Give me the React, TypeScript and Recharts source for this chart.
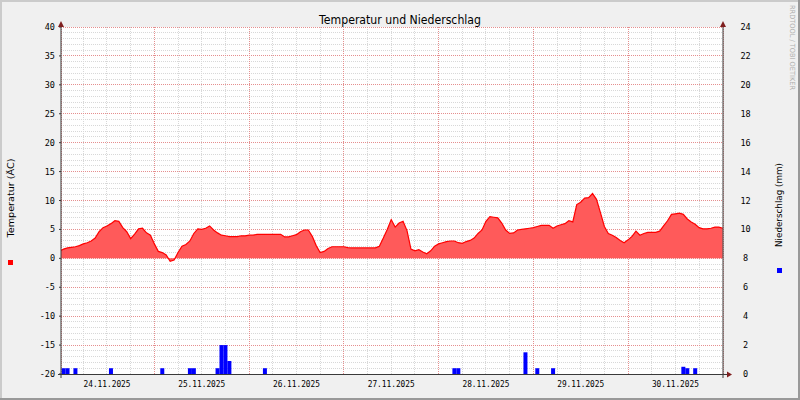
import { ComposedChart, Area, Bar, XAxis, YAxis, CartesianGrid } from 'recharts';

// hours counted from 24.11.2025 00:00
const dayLabels = ['24.11.2025', '25.11.2025', '26.11.2025', '27.11.2025', '28.11.2025', '29.11.2025', '30.11.2025'];
const labelHours = [12, 36, 60, 84, 108, 132, 156];
const majorHours = [24, 48, 72, 96, 120, 144];
const minorHours = Array.from({ length: 27 }, (_, i) => (i + 1) * 6).filter((h) => h % 24 !== 0);

const TEMP_DOMAIN: [number, number] = [-20, 40];
const tempTicks = [-20, -15, -10, -5, 0, 5, 10, 15, 20, 25, 30, 35, 40];
const tempMinorTicks = Array.from({ length: 61 }, (_, i) => i - 20).filter((v) => v % 5 !== 0);
const rainTicks = [0, 2, 4, 6, 8, 10, 12, 14, 16, 18, 20, 22, 24];

// hourly temperature (°C), hour 0 .. 168
const temperature = [
  1.2, 1.6, 1.8, 1.9, 2.0, 2.2, 2.5, 2.7, 3.0, 3.5, 4.6, 5.3, 5.6, 6.0, 6.5, 6.4, 5.3, 4.6, 3.4, 4.2, 5.1, 5.2, 4.4, 4.0,
  2.5, 1.2, 1.0, 0.6, -0.5, -0.3, 1.0, 2.1, 2.4, 3.0, 4.3, 5.1, 5.0, 5.2, 5.6, 4.9, 4.4, 4.0, 3.9, 3.75, 3.75, 3.75, 3.9, 3.9,
  4.0, 4.0, 4.15, 4.15, 4.15, 4.15, 4.15, 4.15, 4.15, 3.7, 3.7, 3.9, 4.1, 4.6, 4.9, 4.9, 3.8, 2.2, 1.0, 1.2, 1.7, 2.0, 2.0, 2.0,
  2.0, 1.85, 1.8, 1.8, 1.8, 1.8, 1.8, 1.8, 1.8, 2.1, 3.5, 5.0, 6.7, 5.4, 6.1, 6.4, 4.8, 1.6, 1.3, 1.5, 1.1, 0.8, 1.3, 2.1,
  2.5, 2.7, 2.9, 3.0, 3.0, 2.7, 2.6, 2.9, 3.1, 3.5, 4.3, 4.9, 6.4, 7.2, 7.1, 7.0, 6.1, 4.9, 4.3, 4.4, 4.9, 5.0, 5.1, 5.2,
  5.3, 5.5, 5.7, 5.7, 5.7, 5.2, 5.6, 5.8, 6.0, 6.5, 6.3, 9.3, 9.7, 10.4, 10.5, 11.2, 10.2, 7.9, 5.5, 4.3, 4.0, 3.6, 3.1, 2.7,
  3.2, 3.8, 4.7, 4.0, 4.3, 4.5, 4.5, 4.5, 4.7, 5.6, 6.5, 7.6, 7.7, 7.8, 7.6, 6.8, 6.3, 5.9, 5.3, 5.1, 5.1, 5.2, 5.4, 5.4,
  5.2,
];

// hourly precipitation (mm), only the hours with rain
const rainHours = [1, 2, 4, 13, 26, 33, 34, 40, 41, 42, 43, 52, 100, 101, 118, 121, 125, 158, 159, 161];
const rainMm = [0.4, 0.4, 0.4, 0.4, 0.4, 0.4, 0.4, 0.4, 2.0, 2.0, 0.9, 0.4, 0.4, 0.4, 1.5, 0.4, 0.4, 0.5, 0.4, 0.4];

const rows = temperature.map((t, h) => {
  const idx = rainHours.indexOf(h);
  return { h, temp: t, rain: idx >= 0 ? rainMm[idx] : undefined };
});

const X_DOMAIN: [number, number] = [0.35, 168.05];
const MONO = '"DejaVu Sans Mono", monospace';
const SANS = '"DejaVu Sans", sans-serif';

const LeftTick = ({ x, y, payload }: any) => (
  <text x={x} y={y} dy={3} textAnchor="end" fontFamily={MONO} fontSize={8.5} fill="#000">
    {payload.value}
  </text>
);

const RightTick = ({ x, y, payload }: any) => (
  <text x={x + 20.5} y={y} dy={3} textAnchor="middle" fontFamily={MONO} fontSize={8.5} fill="#000">
    {payload.value}
  </text>
);

const DateTick = ({ x, y, payload }: any) => (
  <text x={x} y={y} dy={13} textAnchor="middle" fontFamily={MONO} fontSize={9} fill="#000"
    textLength={47} lengthAdjust="spacingAndGlyphs">
    {dayLabels[labelHours.indexOf(payload.value)]}
  </text>
);

// 1° minor grid lines on the temperature axis
const minorHorizontal = ({ yAxis, offset }: any) => {
  const [lo, hi] = TEMP_DOMAIN;
  return tempMinorTicks.map((v) =>
    typeof yAxis?.scale === 'function'
      ? yAxis.scale(v)
      : offset.top + (offset.height * (hi - v)) / (hi - lo),
  );
};

export default function App() {
  return (
    <div style={{ position: 'absolute', left: 0, top: 0, width: 800, height: 400, background: '#f0f0f0' }}>
      <ComposedChart width={800} height={400} data={rows} margin={{ top: 27, right: 0, bottom: 0, left: 0 }}
        barCategoryGap={0} barGap={0}>
        <XAxis dataKey="h" type="number" domain={X_DOMAIN} allowDataOverflow ticks={labelHours}
          axisLine={false} tickLine={false} tickSize={0} tickMargin={0} height={26} tick={<DateTick />} interval={0} />
        <XAxis xAxisId="minor" dataKey="h" type="number" domain={X_DOMAIN} allowDataOverflow ticks={minorHours}
          interval={0} hide />
        <XAxis xAxisId="major" dataKey="h" type="number" domain={X_DOMAIN} allowDataOverflow ticks={majorHours}
          interval={0} hide />
        <YAxis yAxisId="temp" domain={TEMP_DOMAIN} ticks={tempTicks} width={61} axisLine={false}
          tickSize={2} tickMargin={4} tickLine={{ stroke: '#3a3a3a' }} tick={<LeftTick />} interval={0} />
        <YAxis yAxisId="rain" orientation="right" domain={[0, 24]} ticks={rainTicks} width={77} axisLine={false}
          tickLine={false} tickSize={2} tickMargin={0} tick={<RightTick />} interval={0} />
        <CartesianGrid yAxisId="temp" fill="#ffffff" stroke="#d8d8d8" strokeDasharray="1 1" vertical={false}
          horizontalCoordinatesGenerator={minorHorizontal} shapeRendering="crispEdges" />
        <CartesianGrid xAxisId="minor" yAxisId="temp" stroke="#d8d8d8" strokeDasharray="1 1" horizontal={false}
          shapeRendering="crispEdges" />
        <CartesianGrid xAxisId="major" yAxisId="temp" stroke="#e58f8f" strokeDasharray="1 1"
          shapeRendering="crispEdges" />
        <Area yAxisId="temp" dataKey="temp" type="linear" baseValue={0} stroke="#ff0000" strokeWidth={1.2}
          fill="#ff5a5a" fillOpacity={1} isAnimationActive={false} dot={false} activeDot={false} />
        <Bar yAxisId="rain" dataKey="rain" fill="#0000ff" isAnimationActive={false} />
      </ComposedChart>
      <svg width={800} height={400} style={{ position: 'absolute', left: 0, top: 0, pointerEvents: 'none' }}>
        <rect x={0} y={0} width={800} height={2} fill="#cbcbcb" />
        <rect x={0} y={0} width={2} height={400} fill="#cbcbcb" />
        <rect x={0} y={398} width={800} height={2} fill="#999999" />
        <rect x={798} y={0} width={2} height={400} fill="#999999" />
        <text x={400} y={24} textAnchor="middle" fontFamily={SANS} fontSize={12} textLength={162}
          lengthAdjust="spacingAndGlyphs">Temperatur und Niederschlag</text>
        <line x1={61} y1={24} x2={61} y2={378} stroke="#3a3a3a" strokeWidth={1} />
        <line x1={723} y1={24} x2={723} y2={378} stroke="#3a3a3a" strokeWidth={1} />
        <line x1={58} y1={374.5} x2={729} y2={374.5} stroke="#3a3a3a" strokeWidth={1} />
        <polygon points="58,27 64,27 61,21" fill="#7f1f1f" />
        <polygon points="720,27 726,27 723,21" fill="#7f1f1f" />
        <polygon points="727,371.5 727,377.5 732,374.5" fill="#7f1f1f" />
        <text transform="translate(14,198) rotate(-90)" textAnchor="middle" fontFamily={SANS} fontSize={9.5}
          textLength={79} lengthAdjust="spacingAndGlyphs">Temperatur (ÄC)</text>
        <text transform="translate(782,205) rotate(-90)" textAnchor="middle" fontFamily={SANS} fontSize={9.5}
          textLength={84} lengthAdjust="spacingAndGlyphs">Niederschlag (mm)</text>
        <rect x={8} y={260} width={5} height={5} fill="#ff0000" />
        <rect x={777} y={268} width={5} height={5} fill="#0000ff" />
        <text transform="translate(790,5) rotate(90)" fontFamily={SANS} fontSize={7} fill="#b0b0b0"
          textLength={85} lengthAdjust="spacingAndGlyphs">RRDTOOL / TOBI OETIKER</text>
      </svg>
    </div>
  );
}
